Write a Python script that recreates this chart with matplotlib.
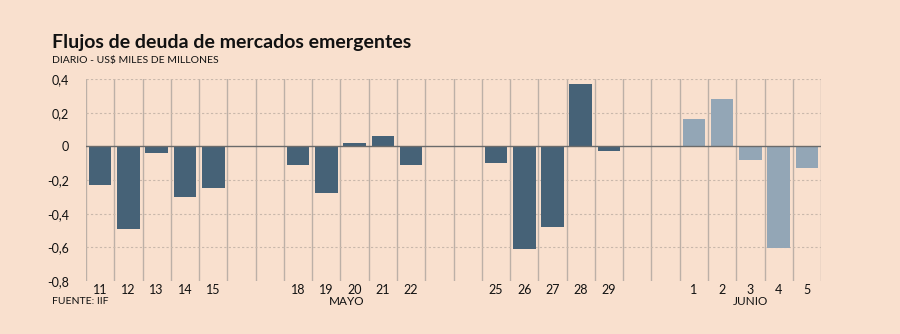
import matplotlib
matplotlib.use("Agg")
import matplotlib.pyplot as plt
import numpy as np

# datos (US$ miles de millones)
dias = ["11", "12", "13", "14", "15", "", "",
        "18", "19", "20", "21", "22", "", "",
        "25", "26", "27", "28", "29", "", "",
        "1", "2", "3", "4", "5"]
flujos = [-0.23, -0.49, -0.04, -0.30, -0.25, np.nan, np.nan,
          -0.11, -0.28, 0.02, 0.06, -0.11, np.nan, np.nan,
          -0.10, -0.61, -0.48, 0.37, -0.03, np.nan, np.nan,
          0.16, 0.28, -0.08, -0.602, -0.13]
es_junio = [False] * 21 + [True] * 5
meses = ["MAYO", "JUNIO"]

BG = "#f9e0ce"
OSCURO = "#466277"
CLARO = "#93a6b6"
plt.rcParams["font.family"] = ["Lato", "DejaVu Sans"]

fig = plt.figure(figsize=(9, 3.34), dpi=100, facecolor=BG)
ax = fig.add_axes([0.0956, 0.1587, 0.8167, 0.6048], facecolor=BG)

x = np.arange(len(dias))
colores = [CLARO if j else OSCURO for j in es_junio]
ax.bar(x, np.nan_to_num(flujos), width=0.8, color=colores, zorder=3)

ax.set_xlim(-0.5, len(dias) - 0.5)
ax.set_ylim(-0.8, 0.4)

# rejilla vertical entre días, horizontal punteada
for b in np.arange(-0.5, len(dias), 1.0):
    ax.axvline(b, color="#bcb0a7", lw=1.0, zorder=1)
for v in [-0.6, -0.4, -0.2, 0.2, 0.4]:
    ax.axhline(v, color="#c9b8ab", lw=0.8, ls=(0, (2, 2)), zorder=1)
ax.axhline(0, color="#6b6b6b", lw=1.0, zorder=4)

for s in ax.spines.values():
    s.set_visible(False)

ax.set_yticks([-0.8, -0.6, -0.4, -0.2, 0, 0.2, 0.4])
ax.set_yticklabels(["-0,8", "-0,6", "-0,4", "-0,2", "0", "0,2", "0,4"])
ax.set_xticks(x)
ax.set_xticklabels(dias)
ax.tick_params(length=0, labelsize=9, colors="#111111")
ax.tick_params(axis="y", pad=12)
ax.tick_params(axis="x", pad=2)

ax.text(8.7, -0.92, meses[0], ha="center", va="center", fontsize=8.5, color="#111111")
ax.text(23, -0.92, meses[1], ha="center", va="center", fontsize=8.5, color="#111111")

fig.text(0.058, 0.873, "Flujos de deuda de mercados emergentes", fontsize=14,
         fontweight="bold", color="#111111", va="center")
fig.text(0.058, 0.818, "DIARIO - US$ MILES DE MILLONES", fontsize=7.5,
         color="#111111", va="center")
fig.text(0.058, 0.098, "FUENTE: IIF", fontsize=7.5, color="#111111", va="center")

fig.savefig("out.png", dpi=100, facecolor=BG)
